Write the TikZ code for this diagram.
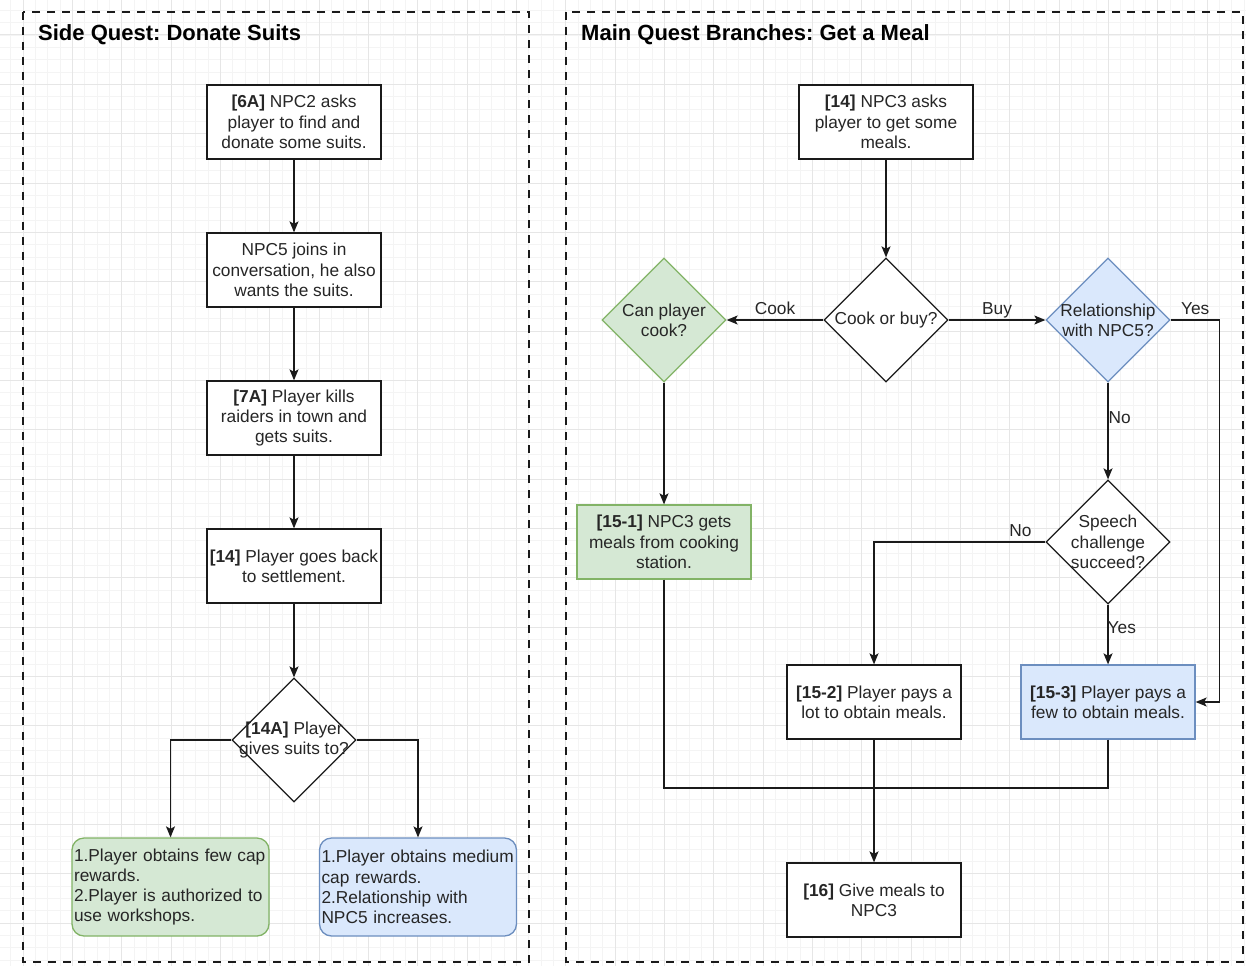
\documentclass[tikz,border=0pt]{standalone}
\usepackage{fontspec}
\setmainfont{Liberation Sans}
\usetikzlibrary{arrows.meta,shapes.geometric}
\frenchspacing

\definecolor{gridminor}{HTML}{F4F4F4}
\definecolor{gridmajor}{HTML}{E6E6E6}
\definecolor{ink}{HTML}{1A1A1A}
\definecolor{txt}{HTML}{262626}
\definecolor{greenfill}{HTML}{D5E8D4}
\definecolor{greenline}{HTML}{82B366}
\definecolor{bluefill}{HTML}{DAE8FC}
\definecolor{blueline}{HTML}{6C8EBF}

\tikzset{
  base/.style={font=\fontsize{17.3}{20.2}\selectfont, text=txt},
  stepbox/.style={base, rectangle, draw=ink, line width=1.3pt, fill=white,
    minimum width=174pt, minimum height=74pt, inner sep=0pt, align=center},
  decide/.style={diamond, draw=ink, line width=1.3pt, fill=white,
    minimum width=124pt, minimum height=124pt, inner sep=0pt},
  dtext/.style={base, align=center, inner sep=0pt},
  greenish/.style={fill=greenfill, draw=greenline},
  blueish/.style={fill=bluefill, draw=blueline},
  outcome/.style={base, rectangle, rounded corners=12pt, line width=1.3pt,
    minimum width=197pt, minimum height=98pt, text width=193pt,
    inner sep=2pt, align=left},
  flow/.style={draw=ink, line width=1.3pt,
    -{Stealth[length=11pt,width=9pt,inset=2.5pt]}},
  plain/.style={draw=ink, line width=1.3pt},
  elab/.style={base, inner sep=1pt, text height=12.5pt, text depth=3.5pt},
  panel/.style={draw=ink, line width=2.6pt, dash pattern=on 8pt off 7pt},
  heading/.style={font=\fontsize{22}{26}\selectfont\bfseries, text=black,
    anchor=west, inner sep=0pt},
}

\begin{document}
\begin{tikzpicture}[x=1pt, y=-1pt]
  % page and grid
  \fill[white] (0,0) rectangle (1246,966);
  \useasboundingbox (0,0) rectangle (1246,966);
  \foreach \k in {-1,...,99}
    \draw[gridminor, line width=0.9pt] ({23+12.3333*\k},0) -- ++(0,966);
  \foreach \k in {-2,...,75}
    \draw[gridminor, line width=0.9pt] (0,{35+12.3333*\k}) -- ++(1246,0);
  \foreach \k in {0,...,24}
    \draw[gridmajor, line width=1pt] ({23+49.3333*\k},0) -- ++(0,966);
  \foreach \k in {0,...,18}
    \draw[gridmajor, line width=1pt] (0,{35+49.3333*\k}) -- ++(1246,0);

  % the two dashed panels
  \draw[panel] (23,12) rectangle (529,962);
  \draw[panel] (566,12) rectangle (1243,962);
  \node[heading] (t1) at (38,35) {Side Quest: Donate Suits};
  \node[heading] (t2) at (581,35) {Main Quest Branches: Get a Meal};

  % ---------- side quest ----------
  \node[stepbox] (s6a) at (294,122) {\textbf{[6A]} NPC2 asks\\player to find and\\donate some suits.};
  \node[stepbox] (s5)  at (294,270) {NPC5 joins in\\conversation, he also\\wants the suits.};
  \node[stepbox] (s7a) at (294,418) {\textbf{[7A]} Player kills\\raiders in town and\\gets suits.};
  \node[stepbox] (s14) at (294,566) {\textbf{[14]} Player goes back\\to settlement.};
  \node[decide, label={[dtext]center:\textbf{[14A]} Player\\gives suits to?}] (s14a) at (294,740) {};
  \node[outcome, greenish] (sg) at (170.5,887) {1.Player obtains few cap\\rewards.\\2.Player is authorized to\\use workshops.};
  \node[outcome, blueish] (sb) at (418,887) {1.Player obtains medium\\cap rewards.\\2.Relationship with\\NPC5 increases.};

  \draw[flow] (s6a) -- (s5);
  \draw[flow] (s5) -- (s7a);
  \draw[flow] (s7a) -- (s14);
  \draw[flow] (s14) -- (s14a);
  \draw[flow] (s14a.west) -| (sg.north);
  \draw[flow] (s14a.east) -| (sb.north);

  % ---------- main quest ----------
  \node[stepbox] (m14) at (886,122) {\textbf{[14]} NPC3 asks\\player to get some\\meals.};
  \node[decide, label={[dtext]center:Cook or buy?}] (mcb) at (886,320) {};
  \node[decide, greenish, label={[dtext]center:Can player\\cook?}] (mcan) at (664,320) {};
  \node[decide, blueish, label={[dtext]center:Relationship\\with NPC5?}] (mrel) at (1108,320) {};
  \node[decide, label={[dtext]center:Speech\\challenge\\succeed?}] (msp) at (1108,542) {};
  \node[stepbox, greenish] (m151) at (664,542) {\textbf{[15-1]} NPC3 gets\\meals from cooking\\station.};
  \node[stepbox] (m152) at (874,702) {\textbf{[15-2]} Player pays a\\lot to obtain meals.};
  \node[stepbox, blueish] (m153) at (1108,702) {\textbf{[15-3]} Player pays a\\few to obtain meals.};
  \node[stepbox] (m16) at (874,900) {\textbf{[16]} Give meals to\\NPC3};
  \coordinate (merge) at (874,788);

  \draw[flow] (m14) -- (mcb);
  \draw[flow] (mcb.west) -- node[elab, above] {Cook} (mcan.east);
  \draw[flow] (mcb.east) -- node[elab, above] {Buy} (mrel.west);
  \draw[flow] (mrel.east) -- ++(49,0) node[elab, midway, above] {Yes} |- (m153.east);
  \draw[flow] (mrel.south) -- node[elab, pos=0.38, anchor=west, xshift=-1pt] {No} (msp.north);
  \draw[flow] (msp.west) -| node[elab, pos=0.073, above] {No} (m152.north);
  \draw[flow] (msp.south) -- node[elab, pos=0.41, anchor=west, xshift=-2pt] {Yes} (m153.north);
  \draw[flow] (mcan.south) -- (m151.north);
  \draw[plain] (m151.south) |- (merge);
  \draw[plain] (m153.south) |- (merge);
  \draw[flow] (m152.south) -- (m16.north);
\end{tikzpicture}
\end{document}
